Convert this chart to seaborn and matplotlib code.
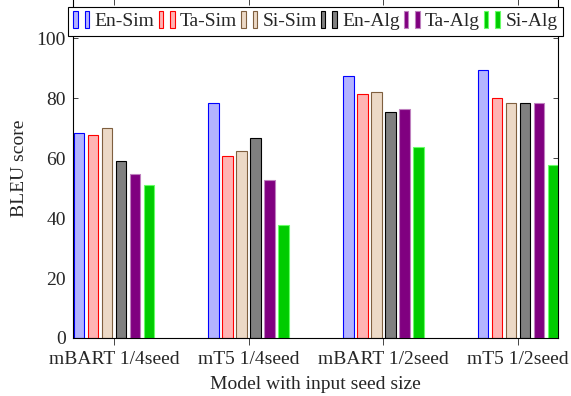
# bar chart of BLEU scores per model / seed size

import numpy as np
import pandas as pd
import matplotlib
matplotlib.use('Agg')
import matplotlib.pyplot as plt
import seaborn as sns
from matplotlib.patches import Patch, Rectangle
from matplotlib.legend_handler import HandlerBase

# data
models = ['mBART 1/4seed', 'mT5 1/4seed', 'mBART 1/2seed', 'mT5 1/2seed']
settings = ['En-Sim', 'Ta-Sim', 'Si-Sim', 'En-Alg', 'Ta-Alg', 'Si-Alg']

en_sim = [68.2, 78.2, 87.5, 89.4]
ta_sim = [67.6, 60.6, 81.2, 80.1]
si_sim = [69.9, 62.2, 82.0, 78.3]
en_alg = [59.1, 66.8, 75.5, 78.3]
ta_alg = [54.6, 52.6, 76.2, 78.3]
si_alg = [50.9, 37.8, 63.6, 57.8]

fills = ['#b3b3ff', '#ffb3b3', '#ecd9c6', '#808080', '#800080', '#00cc00']
edges = ['#0000ff', '#ff0000', '#7f5f3f', '#000000', '#bf80bf', '#66ff66']

# long table for seaborn
rows = []
for s, vals in zip(settings, [en_sim, ta_sim, si_sim, en_alg, ta_alg, si_alg]):
    for m, v in zip(models, vals):
        rows.append({'model': m, 'setting': s, 'score': v})
df = pd.DataFrame(rows)

sns.set_style('ticks')
plt.rcParams['font.family'] = ['Liberation Serif', 'DejaVu Serif']
plt.rcParams['font.size'] = 14


class TwoBars(HandlerBase):
    # pgfplots style legend image: two small bars
    def create_artists(self, legend, orig_handle, xdescent, ydescent,
                       width, height, fontsize, trans):
        fc = orig_handle.get_facecolor()
        ec = orig_handle.get_edgecolor()
        w = width * 0.24
        out = []
        for x0 in (0.0, width * 0.62):
            r = Rectangle((x0 - xdescent, -ydescent - height * 0.15), w, height * 1.25,
                          facecolor=fc, edgecolor=ec, lw=0.8, transform=trans)
            out.append(r)
        return out


fig = plt.figure(figsize=(5.71, 3.96), dpi=100)
ax = fig.add_axes([73 / 571, 1 - 338 / 396, 485 / 571, 339.5 / 396])

sns.barplot(data=df, x='model', y='score', hue='setting', order=models,
            hue_order=settings, palette=fills, saturation=1,
            width=0.624, gap=0.25, legend=False, ax=ax)

for cont, ec in zip(ax.containers, edges):
    for bar in cont:
        bar.set_edgecolor(ec)
        bar.set_linewidth(0.8)

ax.set_xlim(-0.304, 3.297)
ax.set_ylim(0, 113.2)
ax.set_yticks([0, 20, 40, 60, 80, 100])
ax.set_xlabel('Model with input seed size', labelpad=6)
ax.set_ylabel('BLEU score', labelpad=6)

for sp in ax.spines.values():
    sp.set_visible(True)
    sp.set_color('black')
    sp.set_linewidth(0.8)

ax.tick_params(axis='x', direction='out', length=5, width=0.6, pad=4, top=False)
ax.tick_params(axis='y', direction='in', length=3.5, width=0.6, pad=5,
               left=True, right=True)
top = ax.secondary_xaxis('top')
top.set_xticks(range(len(models)))
top.tick_params(direction='in', length=5, width=0.6, labeltop=False)

handles = [Patch(facecolor=f, edgecolor=e) for f, e in zip(fills, edges)]
leg = ax.legend(handles, settings, loc='upper center', bbox_to_anchor=(0.5, 0.976),
                ncol=6, frameon=True, fancybox=False, framealpha=1,
                edgecolor='black', borderaxespad=0, borderpad=0.3,
                handlelength=0.95, handleheight=0.7, handletextpad=0.15,
                columnspacing=0.2, fontsize=14,
                handler_map={Patch: TwoBars()})
leg.get_frame().set_linewidth(0.8)

fig.savefig('out.png', dpi=100)
